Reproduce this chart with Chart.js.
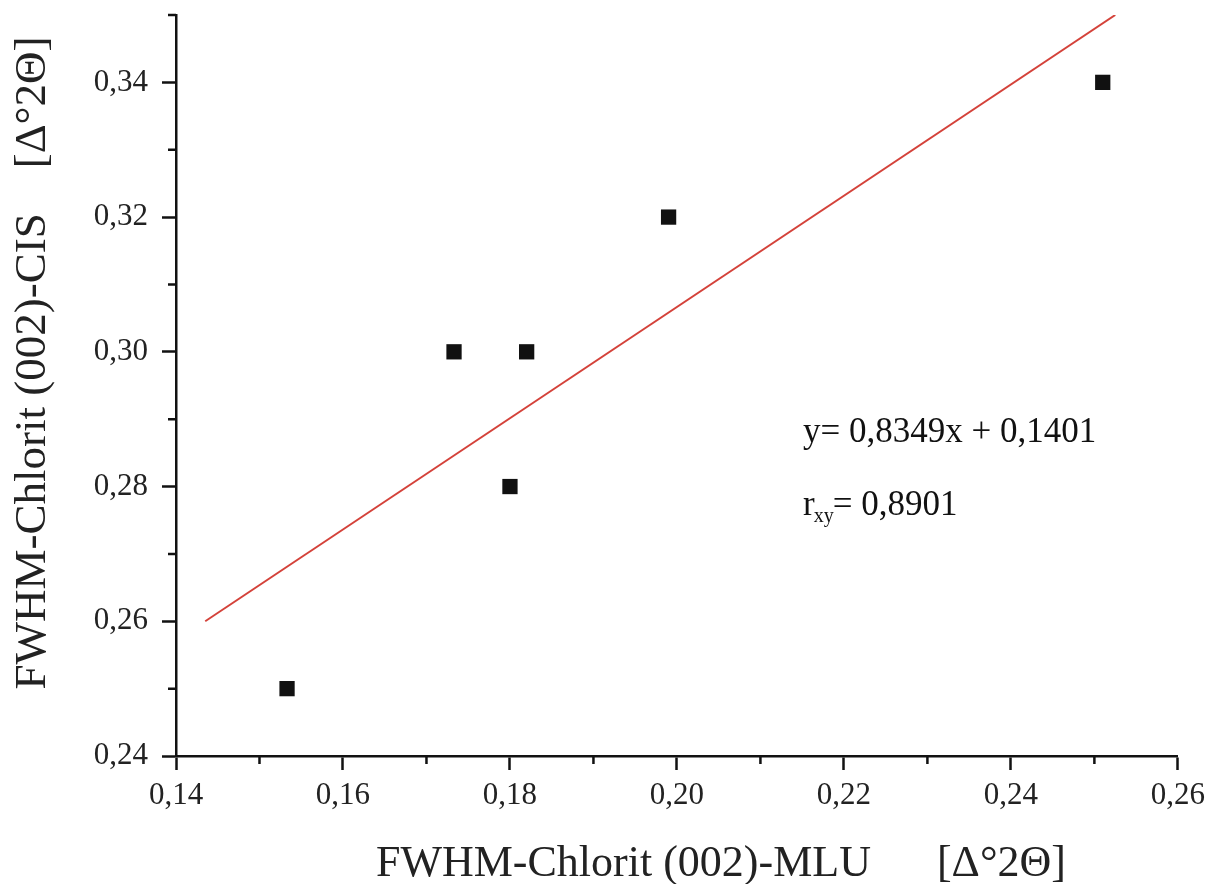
<!DOCTYPE html>
<html lang="de">

<head>
    <meta charset="UTF-8">
    <title>FWHM Chlorit MLU vs CIS</title>
    <script src="https://cdn.jsdelivr.net/npm/chart.js"></script>
    <style>
        body { margin: 0; background: #fff; }
        .grafico { width: 1212px; height: 884px; }
    </style>
</head>

<body>
    <div class="grafico">
        <canvas id="graficoFwhm"></canvas>
    </div>

<script>
    const mluWerte = [0.1533, 0.1733, 0.1800, 0.1820, 0.1990, 0.2510];
    const cisWerte = [0.25, 0.30, 0.28, 0.30, 0.32, 0.34];

    // Regressionsgerade y = 0,8349x + 0,1401
    const geradeX = [0.1435, 0.2525];
    const geradeY = [0.26, 0.35];

    const xTicks = [0.14, 0.16, 0.18, 0.20, 0.22, 0.24, 0.26];
    const yTicks = [0.24, 0.26, 0.28, 0.30, 0.32, 0.34];

    const gleichung = 'y= 0,8349x + 0,1401';
    const korrelation = '= 0,8901';

    const sp = n => '\u00a0'.repeat(n);
    const fmt = v => Number(v).toFixed(2).replace('.', ',');

    // kleine Zwischenstriche + Beschriftung im Diagramm
    const zusatzPlugin = {
        id: 'zusatz',
        afterDraw(chart) {
            const ctx = chart.ctx;
            const x = chart.scales.x, y = chart.scales.y;
            ctx.save();
            ctx.strokeStyle = '#111';
            ctx.lineWidth = 2.5;
            ctx.beginPath();
            for (let i = 0; i < xTicks.length - 1; i++) {
                const px = x.getPixelForValue((xTicks[i] + xTicks[i + 1]) / 2);
                ctx.moveTo(px, y.bottom);
                ctx.lineTo(px, y.bottom + 8);
            }
            for (let i = 0; i < yTicks.length; i++) {
                const py = y.getPixelForValue(yTicks[i] + 0.01);
                ctx.moveTo(x.left, py);
                ctx.lineTo(x.left - 8, py);
            }
            ctx.stroke();

            ctx.fillStyle = '#111';
            ctx.font = '35px "Liberation Serif"';
            ctx.textBaseline = 'middle';
            const tx = x.getPixelForValue(0.2151);
            ctx.fillText(gleichung, tx, y.getPixelForValue(0.2880));
            const ry = y.getPixelForValue(0.2771);
            ctx.fillText('r', tx, ry);
            const rw = ctx.measureText('r').width;
            ctx.font = '20px "Liberation Serif"';
            ctx.fillText('xy', tx + rw - 1, ry + 11);
            const sw = ctx.measureText('xy').width;
            ctx.font = '35px "Liberation Serif"';
            ctx.fillText(korrelation, tx + rw + sw - 2, ry);
            ctx.restore();
        }
    };

    const ctx = document.getElementById('graficoFwhm').getContext('2d');

    new Chart(ctx, {
        type: 'scatter',
        data: {
            datasets: [
                {
                    label: 'Regression',
                    type: 'line',
                    data: geradeX.map((v, i) => ({ x: v, y: geradeY[i] })),
                    borderColor: '#d4423a',
                    borderWidth: 2,
                    pointRadius: 0,
                    fill: false
                },
                {
                    label: 'Proben',
                    data: mluWerte.map((v, i) => ({ x: v, y: cisWerte[i] })),
                    pointStyle: 'rect',
                    pointRadius: 10.8,
                    backgroundColor: '#111',
                    borderColor: '#111',
                    borderWidth: 0
                }
            ]
        },
        options: {
            responsive: true,
            maintainAspectRatio: false,
            animation: false,
            layout: { padding: { left: 0, right: 34, top: 15, bottom: 0 } },
            plugins: {
                legend: { display: false },
                tooltip: { enabled: false }
            },
            scales: {
                x: {
                    type: 'linear',
                    min: 0.14,
                    max: 0.26,
                    afterFit: s => { s.height = 128; },
                    afterBuildTicks: s => { s.ticks = xTicks.map(v => ({ value: v })); },
                    ticks: {
                        color: '#222',
                        padding: 7,
                        font: { family: 'Liberation Serif', size: 31 },
                        callback: v => fmt(v)
                    },
                    grid: {
                        drawOnChartArea: false,
                        tickLength: 14,
                        tickWidth: 2.5,
                        tickColor: '#111'
                    },
                    border: { color: '#111', width: 2.5 },
                    title: {
                        display: true,
                        text: sp(8) + 'FWHM-Chlorit (002)-MLU' + sp(6) + '[Δ°2Θ]',
                        color: '#222',
                        font: { family: 'Liberation Serif', size: 44, lineHeight: 0.9 },
                        padding: 0
                    }
                },
                y: {
                    type: 'linear',
                    min: 0.24,
                    max: 0.35,
                    afterFit: s => { s.width = 176; s.paddingTop = 0; },
                    afterBuildTicks: s => { s.ticks = yTicks.map(v => ({ value: v })); },
                    ticks: {
                        color: '#222',
                        padding: 14,
                        font: { family: 'Liberation Serif', size: 31, lineHeight: 1 },
                        callback: v => fmt(v)
                    },
                    grid: {
                        drawOnChartArea: false,
                        tickLength: 14,
                        tickWidth: 2.5,
                        tickColor: '#111'
                    },
                    border: { color: '#111', width: 2.5 },
                    title: {
                        display: true,
                        text: sp(4) + 'FWHM-Chlorit (002)-CIS' + sp(4) + '[Δ°2Θ]',
                        color: '#222',
                        font: { family: 'Liberation Serif', size: 45 },
                        padding: { top: 6, bottom: 0 }
                    }
                }
            }
        },
        plugins: [zusatzPlugin]
    });
</script>

</body>

</html>
